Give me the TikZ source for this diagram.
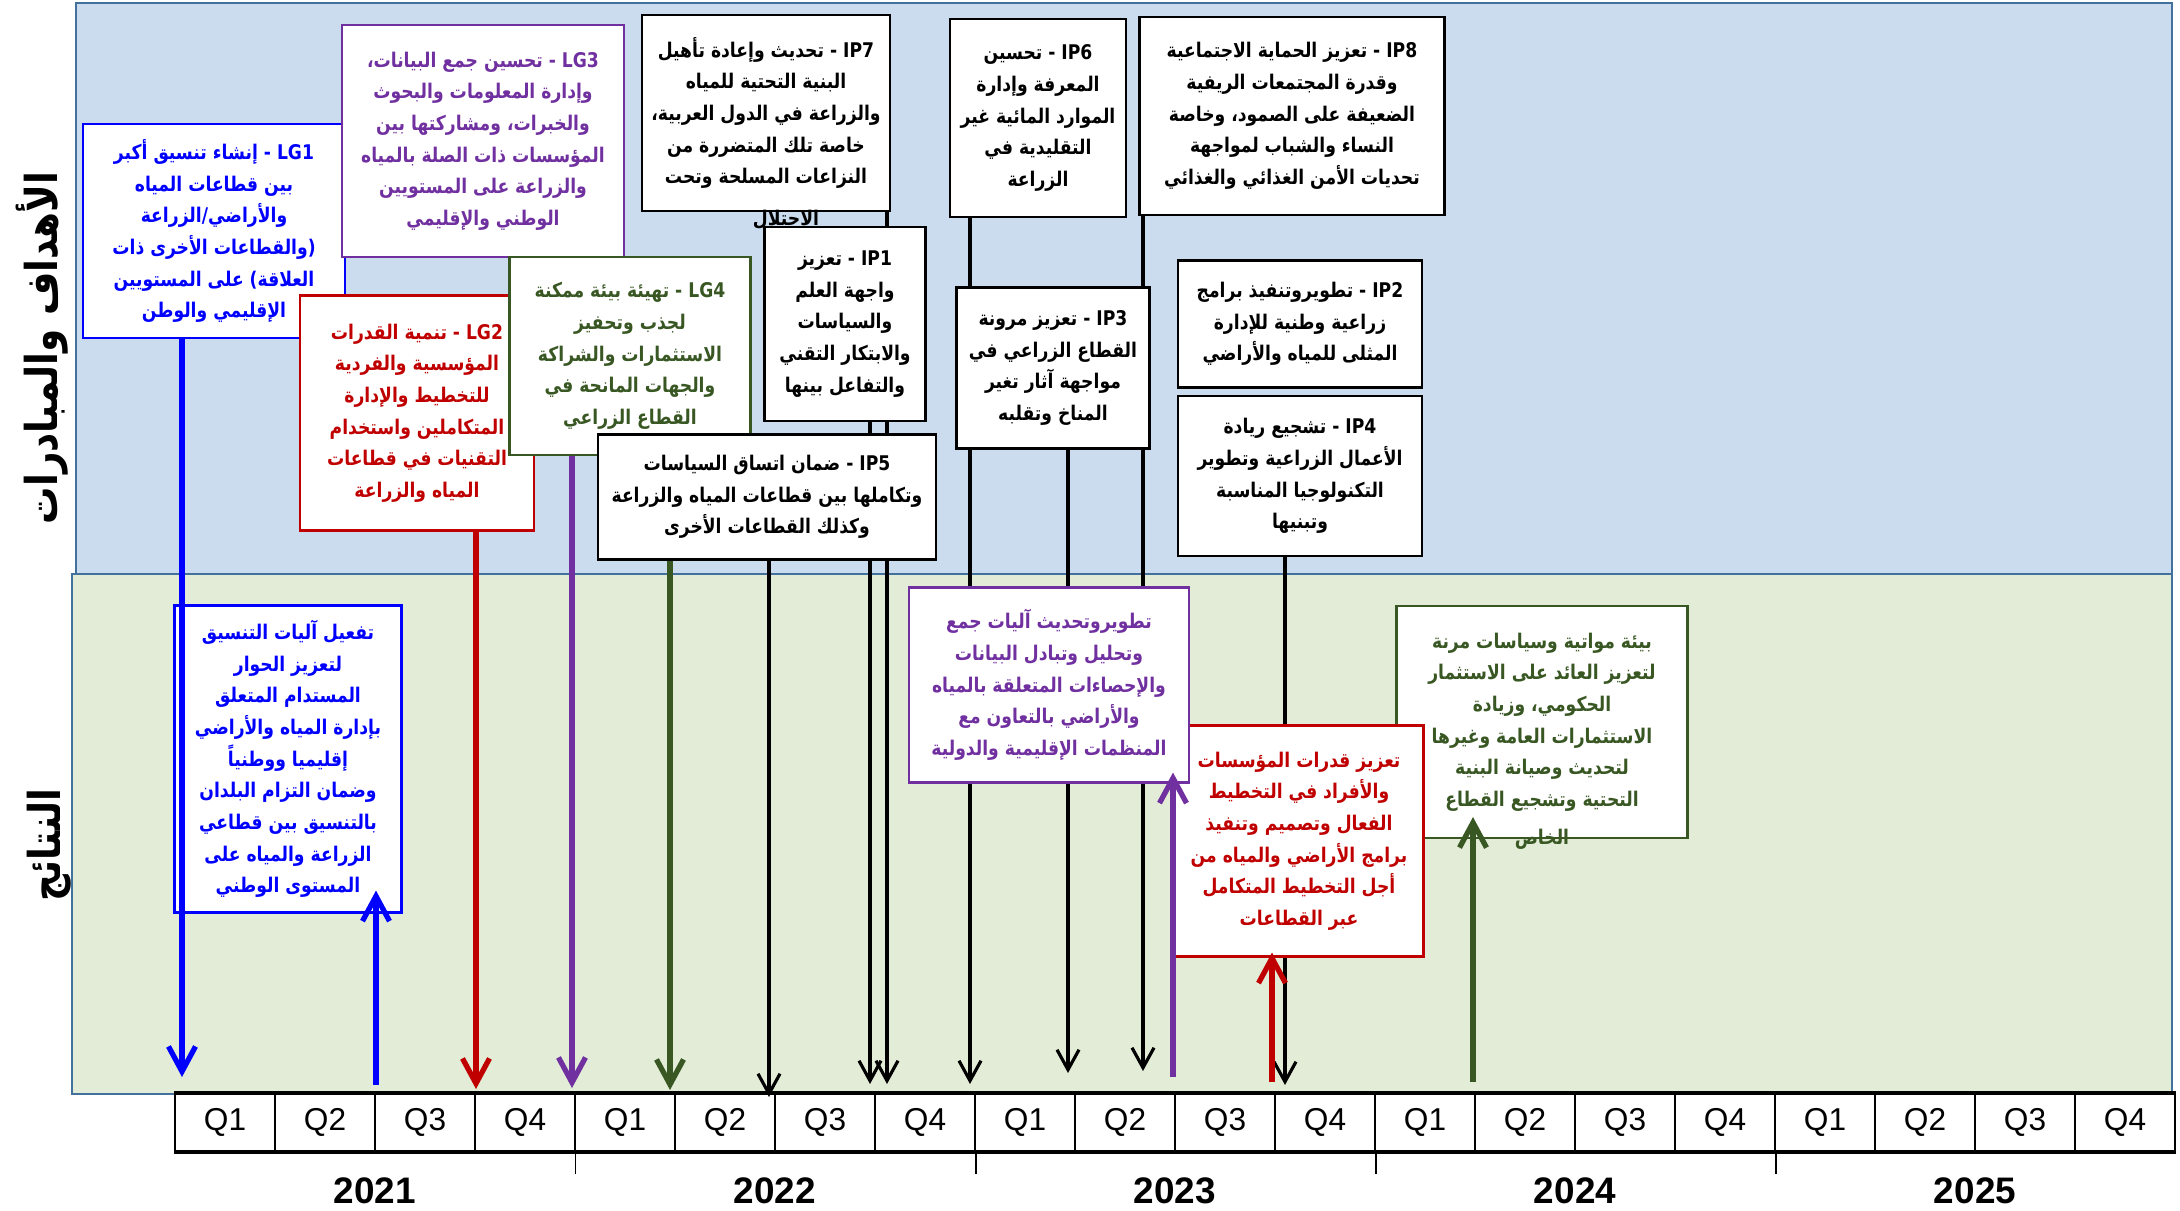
\documentclass[tikz,border=0pt]{standalone}
\usepackage{fontspec}
\setmainfont{Liberation Sans}
\newfontfamily\arabicfont[Script=Arabic, FakeStretch=0.85]{DejaVu Sans}
\TeXXeTstate=1
\usepackage{xcolor}
\usetikzlibrary{arrows.meta, calc, backgrounds}
\pgfdeclarelayer{links}
\pgfsetlayers{background,links,main}

\definecolor{goalfill}{RGB}{202,220,238}
\definecolor{outfill}{RGB}{226,236,214}
\definecolor{frameblue}{RGB}{65,113,156}
\definecolor{lgblue}{RGB}{0,0,255}
\definecolor{lgred}{RGB}{192,0,0}
\definecolor{lgpurple}{RGB}{112,48,160}
\definecolor{lggreen}{RGB}{56,87,35}

\begin{document}
\begin{tikzpicture}[
    x=0.2mm, y=-0.2mm,
    arfont/.style={font=\arabicfont\bfseries\fontsize{11.5}{18}\selectfont},
    box/.style={arfont, draw=#1, text=#1, fill=white, line width=1.2pt, align=center, inner sep=1pt},
    box/.default=black,
    ipbox/.style={box, line width=1.6pt},
    boxsize/.style 2 args={minimum width=#1*0.2mm, minimum height=#2*0.2mm},
    spill/.style={arfont, text=#1, inner sep=0pt},
    qcell/.style={draw, line width=0.9pt, minimum width=20mm, minimum height=11.4mm, font=\fontsize{18}{20}\selectfont},
    yearlabel/.style={font=\bfseries\fontsize{21}{24}\selectfont},
    sidelabel/.style={font=\arabicfont\bfseries\fontsize{25}{28}\selectfont, rotate=90},
    goal/.style={draw=#1, line width=3pt, -{Straight Barb[length=5mm, width=5.4mm]}},
    plan/.style={draw=black, line width=1.8pt, -{Straight Barb[length=4mm, width=4.4mm]}}
]
    \def\arline#1{\beginR #1\endR}
    \def\lat#1{\beginL #1\endL{}}

    \useasboundingbox (0,0) rectangle (2180,1211);

    % Two bands
    \begin{scope}[on background layer]
        \filldraw[goalfill, draw=frameblue, line width=1.5pt] (76,3) rectangle (2172,574);
        \filldraw[outfill, draw=frameblue, line width=1.5pt] (72,574) rectangle (2172,1094);
    \end{scope}
    \node[sidelabel] (goals) at (42,348) {\beginR الأهداف والمبادرات\endR};
    \node[sidelabel] (results) at (49,845) {\beginR النتائج\endR};

    % Regional goals
    \node[box=lgblue, boxsize={262}{214}] (lg1) at (214,231) {\arline{\lat{LG1} - إنشاء تنسيق أكبر}\\ \arline{بين قطاعات المياه}\\ \arline{والأراضي/الزراعة}\\ \arline{(والقطاعات الأخرى ذات}\\ \arline{العلاقة) على المستويين}\\ \arline{الإقليمي والوطن}};
    \node[box=lgpurple, boxsize={282}{232}] (lg3) at (483,141) {\arline{\lat{LG3} - تحسين جمع البيانات،}\\ \arline{وإدارة المعلومات والبحوث}\\ \arline{والخبرات، ومشاركتها بين}\\ \arline{المؤسسات ذات الصلة بالمياه}\\ \arline{والزراعة على المستويين}\\ \arline{الوطني والإقليمي}};
    \node[box=lgred, boxsize={234}{235}] (lg2) at (417,413) {\arline{\lat{LG2} - تنمية القدرات}\\ \arline{المؤسسية والفردية}\\ \arline{للتخطيط والإدارة}\\ \arline{المتكاملين واستخدام}\\ \arline{التقنيات في قطاعات}\\ \arline{المياه والزراعة}};
    \node[box=lggreen, boxsize={241}{198}] (lg4) at (630,356) {\arline{\lat{LG4} - تهيئة بيئة ممكنة}\\ \arline{لجذب وتحفيز}\\ \arline{الاستثمارات والشراكة}\\ \arline{والجهات المانحة في}\\ \arline{القطاع الزراعي}};

    % Priorities
    \node[ipbox, boxsize={338}{125}] (ip5) at (767,497) {\arline{\lat{IP5} - ضمان اتساق السياسات}\\ \arline{وتكاملها بين قطاعات المياه والزراعة}\\ \arline{وكذلك القطاعات الأخرى}};
    \node[ipbox, boxsize={248}{196}] (ip7) at (766,113) {\arline{\lat{IP7} - تحديث وإعادة تأهيل}\\ \arline{البنية التحتية للمياه}\\ \arline{والزراعة في الدول العربية،}\\ \arline{خاصة تلك المتضررة من}\\ \arline{النزاعات المسلحة وتحت}};
    \node[spill=black] (ip7tail) at ($(ip7.south)+(20,7)$) {\arline{الاحتلال}};
    \node[ipbox, boxsize={176}{198}] (ip6) at (1038,118) {\arline{\lat{IP6} - تحسين}\\ \arline{المعرفة وإدارة}\\ \arline{الموارد المائية غير}\\ \arline{التقليدية في}\\ \arline{الزراعة}};
    \node[ipbox, boxsize={305}{198}] (ip8) at (1292,116) {\arline{\lat{IP8} - تعزيز الحماية الاجتماعية}\\ \arline{وقدرة المجتمعات الريفية}\\ \arline{الضعيفة على الصمود، وخاصة}\\ \arline{النساء والشباب لمواجهة}\\ \arline{تحديات الأمن الغذائي والغذائي}};
    \node[ipbox, boxsize={161}{194}] (ip1) at (845,324) {\arline{\lat{IP1} - تعزيز}\\ \arline{واجهة العلم}\\ \arline{والسياسات}\\ \arline{والابتكار التقني}\\ \arline{والتفاعل بينها}};
    \node[ipbox, boxsize={193}{161}] (ip3) at (1053,368) {\arline{\lat{IP3} - تعزيز مرونة}\\ \arline{القطاع الزراعي في}\\ \arline{مواجهة آثار تغير}\\ \arline{المناخ وتقلبه}};
    \node[ipbox, boxsize={244}{127}] (ip2) at (1300,324) {\arline{\lat{IP2} - تطويروتنفيذ برامج}\\ \arline{زراعية وطنية للإدارة}\\ \arline{المثلى للمياه والأراضي}};
    \node[ipbox, boxsize={244}{160}] (ip4) at (1300,476) {\arline{\lat{IP4} - تشجيع ريادة}\\ \arline{الأعمال الزراعية وتطوير}\\ \arline{التكنولوجيا المناسبة}\\ \arline{وتبنيها}};

    % Results
    \node[box=lggreen, boxsize={291}{232}] (og) at (1542,722) {\arline{بيئة مواتية وسياسات مرنة}\\ \arline{لتعزيز العائد على الاستثمار}\\ \arline{الحكومي، وزيادة}\\ \arline{الاستثمارات العامة وغيرها}\\ \arline{لتحديث وصيانة البنية}\\ \arline{التحتية وتشجيع القطاع}};
    \node[spill=lggreen] (ogtail) at (og.south) {\arline{الخاص}};
    \node[box=lgred, boxsize={249}{231}] (or) at (1299,841) {\arline{تعزيز قدرات المؤسسات}\\ \arline{والأفراد في التخطيط}\\ \arline{الفعال وتصميم وتنفيذ}\\ \arline{برامج الأراضي والمياه من}\\ \arline{أجل التخطيط المتكامل}\\ \arline{عبر القطاعات}};
    \node[box=lgpurple, boxsize={280}{195}] (op) at (1049,685) {\arline{تطويروتحديث آليات جمع}\\ \arline{وتحليل وتبادل البيانات}\\ \arline{والإحصاءات المتعلقة بالمياه}\\ \arline{والأراضي بالتعاون مع}\\ \arline{المنظمات الإقليمية والدولية}};
    \node[box=lgblue, boxsize={227}{307}] (ob) at (288,759) {\arline{تفعيل آليات التنسيق}\\ \arline{لتعزيز الحوار}\\ \arline{المستدام المتعلق}\\ \arline{بإدارة المياه والأراضي}\\ \arline{إقليميا ووطنياً}\\ \arline{وضمان التزام البلدان}\\ \arline{بالتنسيق بين قطاعي}\\ \arline{الزراعة والمياه على}\\ \arline{المستوى الوطني}};

    % Timeline
    \foreach \i in {0,...,19} {
        \pgfmathtruncatemacro\q{mod(\i,4)+1}
        \node[qcell] (q\i) at ({225+100*\i},1122.5) {Q\q};
    }
    \draw[line width=2.4pt] (q0.north west) -- (q19.north east);
    \draw[line width=2.4pt] (q0.south west) -- (q19.south east);
    \foreach \y [count=\k from 0] in {2021,2022,2023,2024,2025}
        \node[yearlabel] (y\y) at ({375+400*\k},1191) {\y};
    \foreach \n in {3,7,11,15}
        \draw[line width=0.8pt] (q\n.south east) -- ++(0,22);

    % Tips on the timeline
    \coordinate (t1) at (182,1077);
    \coordinate (t2) at (476,1089);
    \coordinate (t3) at (572,1088);
    \coordinate (t4) at (670,1090);
    \coordinate (t5) at (769,1097);
    \coordinate (t6) at (870,1084);
    \coordinate (t7) at (887,1084);
    \coordinate (t8) at (970,1084);
    \coordinate (t9) at (1068,1073);
    \coordinate (t10) at (1143,1071);
    \coordinate (t11) at (1285,1085);
    % Feet of the result arrows
    \coordinate (f1) at (376,1085);
    \coordinate (f2) at (1173,1077);
    \coordinate (f3) at (1272,1082);
    \coordinate (f4) at (1473,1082);

    % Goals and priorities down to the timeline
    \begin{pgfonlayer}{links}
        \path[goal=lgred] (lg2.south -| t2) -- (t2);
        \path[goal=lgpurple] (lg3.south -| t3) -- (t3);
        \path[goal=lggreen] (lg4.south -| t4) -- (t4);
        \path[plan] (ip5.south -| t5) -- (t5);
        \path[plan] (ip1.south -| t6) -- (t6);
        \path[plan] (ip7.south -| t7) -- (t7);
        \path[plan] (ip6.south -| t8) -- (t8);
        \path[plan] (ip3.south -| t9) -- (t9);
        \path[plan] (ip8.south -| t10) -- (t10);
        \path[plan] (ip4.south -| t11) -- (t11);
    \end{pgfonlayer}
    \path[goal=lgblue] (lg1.south -| t1) -- (t1);

    % Timeline up to the results
    \path[goal=lgblue] (f1) -- ($(f1 |- ob.south)+(0,-23)$);
    \path[goal=lgpurple] (f2) -- ($(f2 |- op.south)+(0,-11)$);
    \path[goal=lgred] (f3) -- ($(f3 |- or.south)+(0,-5)$);
    \path[goal=lggreen] (f4) -- ($(f4 |- og.south)+(0,-22)$);
\end{tikzpicture}
\end{document}
